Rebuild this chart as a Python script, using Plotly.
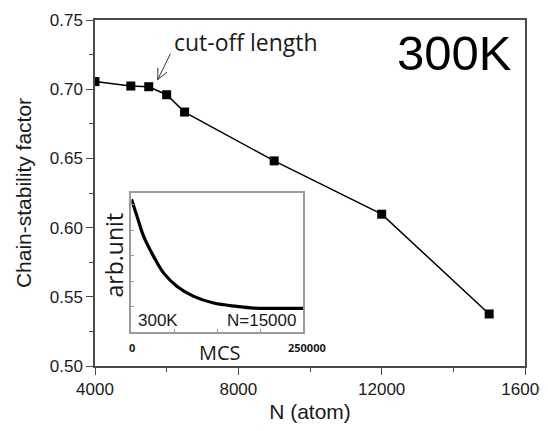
import plotly.graph_objects as go

# Main data
n_atoms = [4000, 5000, 5500, 6000, 6500, 9000, 12000, 15000]
stability = [0.7055, 0.7023, 0.7018, 0.6960, 0.6835, 0.6482, 0.6097, 0.5376]

# Inset data (MCS vs arb. unit)
mcs = [0, 8300, 17900, 32400, 46900, 66400, 90600, 119600, 153600, 177300, 215000, 250000]
arb = [0.955, 0.829, 0.685, 0.541, 0.422, 0.326, 0.254, 0.206, 0.182, 0.170, 0.168, 0.168]

x_major = [4000, 8000, 12000, 16000]
x_labels = ["4000", "8000", "12000", "16000"]
y_major = [0.50, 0.55, 0.60, 0.65, 0.70, 0.75]
inset_xticks = [0, 62500, 125000, 187500, 250000]
inset_xlabels = [(0, "0"), (250000, "250000")]

# cut-off arrow (tail, tip, head ends) in data units
arrow_tail = (6104, 0.7256)
arrow_tip = (5750, 0.7069)
arrow_head_a = (6009, 0.7123)
arrow_head_b = (5756, 0.7155)

TXT = "#1a1a1a"
AX = "#4a4a4a"

fig = go.Figure()
fig.add_trace(go.Scatter(
    x=n_atoms, y=stability, mode="lines+markers",
    line=dict(color="black", width=1.5),
    marker=dict(symbol="square", size=9, color="black"),
    xaxis="x", yaxis="y", showlegend=False, hoverinfo="skip"))

fig.add_trace(go.Scatter(
    x=mcs, y=arb, mode="lines", line=dict(color="black", width=3.2, shape="spline"),
    xaxis="x2", yaxis="y2", showlegend=False, hoverinfo="skip"))

arrow_path = (f"M {arrow_tail[0]},{arrow_tail[1]} L {arrow_tip[0]},{arrow_tip[1]} "
              f"M {arrow_head_a[0]},{arrow_head_a[1]} L {arrow_tip[0]},{arrow_tip[1]} "
              f"L {arrow_head_b[0]},{arrow_head_b[1]}")
fig.add_shape(type="path", path=arrow_path, xref="x", yref="y",
              line=dict(color="#333", width=1))

fig.update_layout(
    width=548, height=431,
    margin=dict(l=86.5, r=31, t=11.5, b=72.5),
    paper_bgcolor="white", plot_bgcolor="white",
    font=dict(family="Arial, Liberation Sans", color=TXT),
    xaxis=dict(range=[4000, 16000], tickvals=x_major, ticktext=x_labels, ticks="outside", ticklen=7,
               tickwidth=1.3, tickcolor=AX, showline=True, linecolor=AX, linewidth=1.5, mirror=True,
               showgrid=False, zeroline=False, tickfont=dict(size=17, color=TXT), automargin=False,
               ticklabeloverflow="allow",
               minor=dict(tickvals=[6000, 10000, 14000], ticks="outside", ticklen=4, tickcolor=AX),
               title=dict(text="N (atom)", font=dict(size=21, color=TXT), standoff=6)),
    yaxis=dict(range=[0.5, 0.75], tickvals=y_major, tickformat=".2f", ticks="outside", ticklen=7,
               tickwidth=1.3, tickcolor=AX, showline=True, linecolor=AX, linewidth=1.5, mirror=True,
               showgrid=False, zeroline=False, tickfont=dict(size=17, color=TXT), automargin=False,
               ticklabeloverflow="allow",
               minor=dict(dtick=0.05, tick0=0.525, ticks="outside", ticklen=4, tickcolor=AX),
               title=dict(text="Chain-stability factor", font=dict(size=21, color=TXT), standoff=12)),
    xaxis2=dict(domain=[0.0848, 0.4843], anchor="y2", range=[0, 250000], tickvals=inset_xticks,
                showticklabels=False, ticks="inside", ticklen=3, tickcolor="#999",
                showline=True, linecolor="#9a9a9a", linewidth=1.5, mirror=True,
                showgrid=False, zeroline=False, automargin=False),
    yaxis2=dict(domain=[0.0994, 0.5], anchor="x2", range=[0, 1], tick0=0.182, dtick=0.183,
                ticks="inside", ticklen=3, tickcolor="#999", showticklabels=False,
                minor=dict(ticks="inside", ticklen=2, tickcolor="#bbb"),
                showline=True, linecolor="#9a9a9a", linewidth=1.5, mirror=True,
                showgrid=False, zeroline=False, automargin=False),
)

# inset tick labels
for xv, lab in inset_xlabels:
    fig.add_annotation(x=xv, y=0.0994, xref="x2", yref="paper", text=f"<b>{lab}</b>",
                       xanchor="center", yanchor="top", yshift=-6,
                       xshift=4 if xv > 0 else 1, showarrow=False,
                       font=dict(family="Open Sans", size=11, color=TXT))
fig.add_annotation(x=0.2915, y=0.0389, xref="paper", yref="paper", text="MCS",
                   xanchor="center", yanchor="middle",
                   showarrow=False, font=dict(family="Open Sans", size=20, color=TXT))
fig.add_annotation(x=0.043, y=0.321, xref="paper", yref="paper", text="arb.unit", textangle=-90,
                   xanchor="center", yanchor="middle",
                   showarrow=False, font=dict(family="Open Sans", size=23, color=TXT))
fig.add_annotation(x=0.35, y=0.935, xref="paper", yref="paper", text="cut-off length",
                   xanchor="center", yanchor="middle",
                   showarrow=False, font=dict(family="Open Sans", size=23, color=TXT))
fig.add_annotation(x=0.835, y=0.904, xref="paper", yref="paper", text="300K",
                   xanchor="center", yanchor="middle",
                   showarrow=False, font=dict(family="Arial, Liberation Sans", size=49, color="black"))
fig.add_annotation(x=0.0848, y=0.0994, xref="paper", yref="paper", text="300K",
                   xanchor="left", yanchor="bottom", xshift=5, yshift=0,
                   showarrow=False, font=dict(size=17, color=TXT))
fig.add_annotation(x=0.4843, y=0.0994, xref="paper", yref="paper", text="N=15000",
                   xanchor="right", yanchor="bottom", xshift=-5, yshift=0,
                   showarrow=False, font=dict(size=17, color=TXT))

fig.write_html("out.html")
